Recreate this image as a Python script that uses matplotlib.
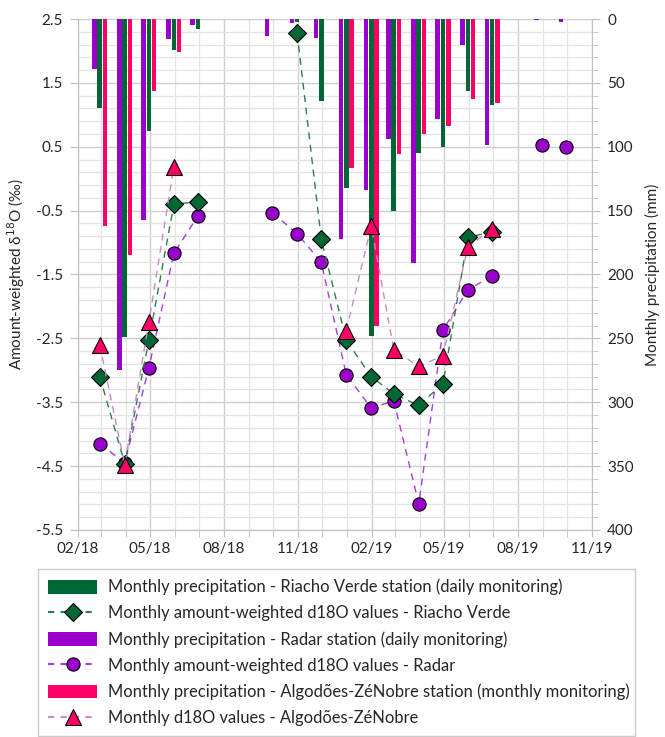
import matplotlib
matplotlib.use('Agg')
import matplotlib.pyplot as plt
import matplotlib.dates as mdates
import numpy as np
import pandas as pd
from matplotlib.lines import Line2D
from matplotlib.patches import Patch
from matplotlib.ticker import MultipleLocator

plt.rcParams['font.family'] = ['Lato', 'DejaVu Sans']

nan = np.nan

# month of each value (values sit at the last day of the month)
months = ['2018-02', '2018-03', '2018-04', '2018-05', '2018-06', '2018-07', '2018-08',
          '2018-09', '2018-10', '2018-11', '2018-12', '2019-01', '2019-02', '2019-03',
          '2019-04', '2019-05', '2019-06', '2019-07', '2019-08', '2019-09']

# monthly precipitation (mm)
rain_riacho = [70, 249, 88, 24, 8, 0, 0, 0, 2.5, 64, 132, 248, 150, 105, 100, 56, 67, 0, 0, 0]
rain_radar = [39, 275, 157, 16, 5, 0, 0, 13, 3, 15, 172, 134, 94, 191, 78, 20, 99, 0, 0.5, 2]
rain_algodoes = [162, 185, 56, 26, 0, 0, 0, 0, 0, 0, 117, 240, 106, 90, 84, 63, 65.5, 0, 0, 0]

# d18O (permil)
d18o_riacho = [-3.10, -4.46, -2.53, -0.40, -0.36, nan, nan, nan, 2.28, -0.95, -2.53, -3.10,
               -3.37, -3.55, -3.21, -0.92, -0.83, nan, nan, nan]
d18o_radar = [-4.15, -4.45, -2.96, -1.17, -0.58, nan, nan, -0.53, -0.86, -1.31, -3.07, -3.59,
              -3.48, -5.09, -2.37, -1.74, -1.52, nan, 0.53, 0.50]
d18o_algodoes = [-2.60, -4.48, -2.24, 0.19, nan, nan, nan, nan, nan, nan, -2.38, -0.74,
                 -2.68, -2.94, -2.77, -1.07, -0.78, nan, nan, nan]

labels = ['Monthly precipitation - Riacho Verde station (daily monitoring)',
          'Monthly amount-weighted d18O values - Riacho Verde',
          'Monthly precipitation - Radar station (daily monitoring)',
          'Monthly amount-weighted d18O values - Radar',
          'Monthly precipitation - Algodões-ZéNobre station (monthly monitoring)',
          'Monthly d18O values - Algodões-ZéNobre']

green = '#006633'
purple = '#9900CC'
pink = '#FF0066'
green_ln = '#2E7D4F'
purple_ln = '#A63DE0'
pink_ln = '#C98BC9'
axis_col = '#BFBFBF'
txt_col = '#262626'

dates = pd.to_datetime(months) + pd.offsets.MonthEnd(0)
shift = pd.Timedelta(days=6.5)

fig = plt.figure(figsize=(6.65, 7.37), dpi=100)
axb = fig.add_axes([0.1173, 0.2809, 0.7729, 0.6933])
axd = axb.twinx()
axd.yaxis.tick_left()
axd.yaxis.set_label_position('left')
axb.yaxis.tick_right()
axb.yaxis.set_label_position('right')

# bars hanging from the top (right axis inverted)
w = 5.8
axb.bar(dates - shift, rain_radar, width=w, color=purple, zorder=2)
axb.bar(dates, rain_riacho, width=w, color=green, zorder=2)
axb.bar(dates + shift, rain_algodoes, width=w, color=pink, zorder=2)
axb.set_ylim(400, 0)
axb.yaxis.set_major_locator(MultipleLocator(50))
axb.yaxis.set_minor_locator(MultipleLocator(10))
axb.set_ylabel('Monthly precipitation (mm)', fontsize=11, color=txt_col, labelpad=8)

axb.set_xlim(pd.Timestamp('2018-02-01'), pd.Timestamp('2019-11-01'))
axb.xaxis.set_major_locator(mdates.MonthLocator(bymonth=[2, 5, 8, 11]))
axb.xaxis.set_minor_locator(mdates.MonthLocator())
axb.xaxis.set_major_formatter(mdates.DateFormatter('%m/%y'))

axb.set_axisbelow(True)
axb.grid(which='major', color='#CFCFCF', lw=1.0)
axb.grid(which='minor', color='#E3E3E3', lw=0.9)
axb.spines['top'].set_visible(False)
for s in ['left', 'right', 'bottom']:
    axb.spines[s].set_color(axis_col)
axb.tick_params(axis='both', which='both', color=axis_col, labelcolor=txt_col, labelsize=11)
axb.tick_params(axis='x', which='both', length=5, pad=4)
axb.tick_params(axis='y', which='major', length=6, pad=5)
axb.tick_params(axis='y', which='minor', length=4)

# d18O series
ms_kw = dict(mec='black', mew=0.8, lw=1.0, dashes=(5, 4))
axd.plot(dates[:17], d18o_radar[:17], color=purple_ln, ls='--', marker='o', ms=9.5, mfc=purple, **ms_kw, zorder=3)
axd.plot(dates[17:], d18o_radar[17:], ls='none', marker='o', ms=9.5, mfc=purple, mec='black', mew=0.8, zorder=3)
axd.plot(dates, d18o_riacho, color=green_ln, ls='--', marker='D', ms=9, mfc=green, **ms_kw, zorder=4)
axd.plot(dates, d18o_algodoes, color=pink_ln, ls='--', marker='^', ms=11, mfc=pink, **ms_kw, zorder=5)
axd.set_ylim(-5.5, 2.5)
axd.set_yticks(np.arange(-5.5, 2.6, 1.0))
axd.set_yticklabels(['%.1f' % v for v in np.arange(-5.5, 2.6, 1.0)])
for s in axd.spines.values():
    s.set_visible(False)
axd.tick_params(axis='y', color=axis_col, labelcolor=txt_col, labelsize=11, length=6, pad=5)
axd.set_ylabel('Amount-weighted δ$^{18}$O (‰)', fontsize=11, color=txt_col, labelpad=6)

handles = [Patch(facecolor=green),
           Line2D([], [], color=green_ln, ls='--', dashes=(3, 3), marker='D', ms=9, mfc=green, mec='black', mew=0.8),
           Patch(facecolor=purple),
           Line2D([], [], color=purple_ln, ls='--', dashes=(3, 3), marker='o', ms=9.5, mfc=purple, mec='black', mew=0.8),
           Patch(facecolor=pink),
           Line2D([], [], color=pink_ln, ls='--', dashes=(3, 3), marker='^', ms=11, mfc=pink, mec='black', mew=0.8)]
leg = fig.legend(handles, labels, loc='upper left', bbox_to_anchor=(0.057, 0.0, 0.898, 0.228),
                 mode='expand', borderaxespad=0, fontsize=11.9, handlelength=3.0, handleheight=0.9,
                 handletextpad=0.65, labelspacing=0.6, borderpad=0.6, fancybox=False,
                 frameon=True, labelcolor=txt_col)
leg.get_frame().set_edgecolor(axis_col)
leg.get_frame().set_linewidth(1.0)

fig.savefig('out.png', dpi=100)
